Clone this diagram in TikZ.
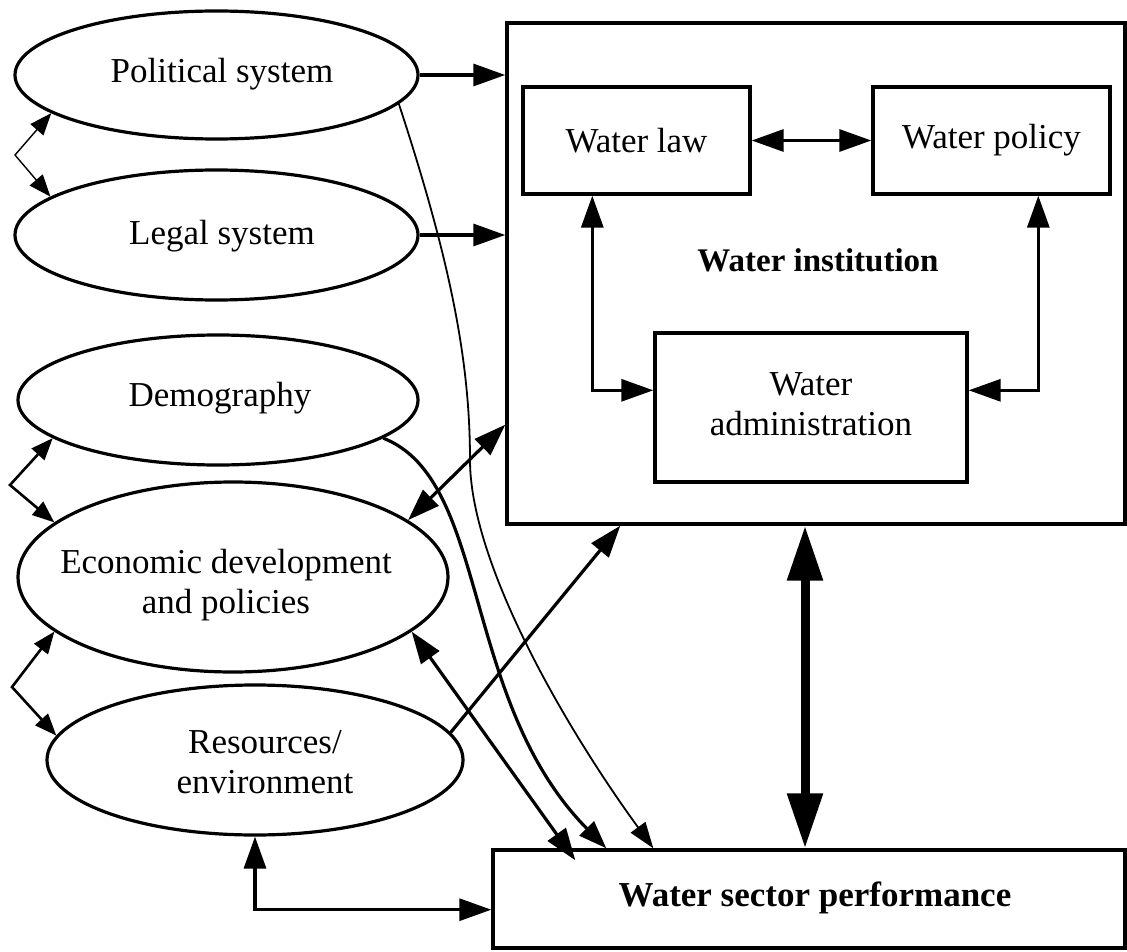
\documentclass[tikz,border=0pt]{standalone}
\usepackage{fontspec}
\setmainfont{Liberation Serif}
\usetikzlibrary{shapes.geometric,arrows.meta,calc}
\begin{document}
\begin{tikzpicture}[x=1pt,y=-1pt,
  ell/.style={draw, ellipse, line width=3.2pt, inner sep=0pt},
  box/.style={draw, rectangle, line width=3.4pt, inner sep=0pt},
  txt/.style={font=\fontsize{35}{40}\selectfont, align=center, inner sep=0pt},
  btxt/.style={font=\fontsize{35}{40}\selectfont\bfseries, inner sep=0pt},
  tipM/.tip={Triangle[length=32pt,width=22pt]},
  tipS/.tip={Triangle[length=22pt,width=17pt]},
  arr/.style={line width=3.2pt, -tipM},
  darr/.style={line width=3.2pt, tipM-tipM},
  sdarr/.style={line width=2.6pt, tipS-tipS},
  tdarr/.style={line width=1.4pt, tipS-tipS},
  thinarr/.style={line width=1.8pt, -{Triangle[length=26pt,width=18pt]}},
  tharr/.style={line width=3.2pt, -{Triangle[length=28pt,width=20pt]}},
  bigarr/.style={line width=9pt, {Triangle[length=55pt,width=34pt]}-{Triangle[length=55pt,width=34pt]}}
]
\useasboundingbox (0,0) rectangle (1127,952);

% left ellipses
\node[ell, minimum width=403pt, minimum height=128pt] (pol) at (216.5,75) {};
\node[txt] (polt) at (222,74) {Political system};
\node[ell, minimum width=403pt, minimum height=130pt] (leg) at (216.5,235) {};
\node[txt] (legt) at (222,236) {Legal system};
\node[ell, minimum width=400pt, minimum height=130pt] (dem) at (218,400) {};
\node[txt] (demt) at (220,398) {Demography};
\node[ell, minimum width=430pt, minimum height=190pt] (eco) at (233,577) {};
\node[txt] (ecot) at (226,585) {Economic development\\and policies};
\node[ell, minimum width=416pt, minimum height=150pt] (res) at (255,760) {};
\node[txt] (rest) at (265,762) {Resources/\\environment};

% institution
\node[box, minimum width=618pt, minimum height=501pt] (inst) at (816,273.5) {};
\node[btxt, font=\fontsize{33}{38}\selectfont\bfseries] (instt) at (818,260) {Water institution};
\node[box, txt, minimum width=227pt, minimum height=107pt] (law) at (636.5,140.5) {Water law};
\node[box, txt, minimum width=237pt, minimum height=107pt] (wpol) at (991.5,140.5) {Water policy};
\node[box, minimum width=312pt, minimum height=149pt] (adm) at (811,407.5) {};
\node[txt] (admt) at (811,404) {Water\\administration};

% performance
\node[box, minimum width=632pt, minimum height=98pt] (perf) at (809,899) {};
\node[btxt] (perft) at (815,898) {Water sector performance};

% connectors
\draw[arr] (pol.east) -- (pol.east -| inst.west);
\draw[arr] (leg.east) -- (leg.east -| inst.west);
\draw[darr] (law.east) -- (wpol.west);
\draw[darr] ($(law.south west)+(71,0)$) |- ($(adm.north west)+(0,59)$);
\draw[darr] ($(wpol.south west)+(167,0)$) |- ($(adm.north east)+(0,59)$);

\coordinate (a1) at (15,155);
\coordinate (a2) at (10,485);
\coordinate (a3) at (12,687);
\draw[tdarr] (pol.193.5) -- (a1) -- (leg.167.25);
\draw[sdarr] (dem.193) -- (a2) -- (eco.163);
\draw[sdarr] (eco.197) -- (a3) -- (res.173.4);

\coordinate (tm) at (470,460);
\draw[thinarr] (pol.-9) .. controls (450,260) and (470,360) .. (tm)
  .. controls (470,560) and (560,720) .. ($(perf.north west)+(162,0)$);
\draw[tharr] (dem.-13) .. controls (490,480) and (460,700) .. ($(perf.north west)+(115,0)$);
\draw[darr] (eco.-17) -- ($(perf.north west)+(84,12)$);
\draw[darr] (eco.18) -- ($(inst.south west)+(0,-101)$);
\draw[arr] (res.8.3) -- ($(inst.south west)+(115,0)$);
\draw[darr] (res.south) |- ($(perf.south west)+(0,-40)$);

\coordinate (bigx) at (805,0);
\draw[bigarr] (inst.south -| bigx) -- (perf.north -| bigx);
\end{tikzpicture}
\end{document}
